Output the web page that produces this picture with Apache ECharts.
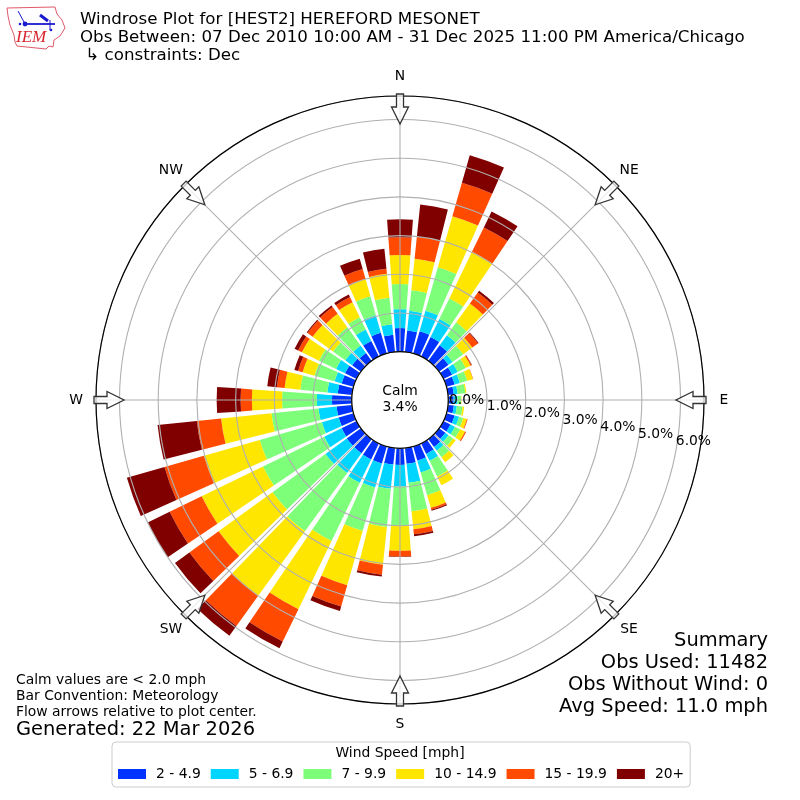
<!DOCTYPE html>
<html><head><meta charset="utf-8">
<style>html,body{margin:0;padding:0;background:#fff}#c{width:800px;height:800px}</style>
<script src="https://cdn.jsdelivr.net/npm/echarts@6/dist/echarts.min.js"></script>
</head><body><div id="c"></div>
<script>
const directions = Array.from({length:36},(_, i)=>String(i*10));
const speedBins = ['2 - 4.9','5 - 6.9','7 - 9.9','10 - 14.9','15 - 19.9','20+'];
const binColors = ['#0033ff','#00d5ff','#7dff7a','#ffe600','#ff4a00','#800000'];
const compass = ['N','NE','E','SE','S','SW','W','NW'];
const radialTicks = ['0.0%','1.0%','2.0%','3.0%','4.0%','5.0%','6.0%'];
const bin1 = [.61,.56,.60,.56,.50,.30,.25,.22,.15,.14,.15,.22,.20,.20,.25,.30,.38,.41,.43,.43,.46,.46,.45,.45,.43,.40,.40,.51,.37,.32,.33,.28,.25,.45,.56,.45];
const bin2 = [.49,.51,.55,.52,.32,.13,.16,.14,.10,.10,.08,.12,.13,.10,.12,.20,.32,.49,.56,.63,.64,.67,.63,.68,.50,.45,.47,.39,.27,.19,.26,.22,.24,.33,.47,.27];
const bin3 = [.65,.53,1.17,.59,.41,.34,.23,.20,.20,.09,.15,.11,.15,.15,.21,.45,.61,.74,1.01,.99,1.17,1.67,1.86,1.69,1.76,1.67,1.22,.90,.70,.54,.49,.39,.58,.35,.51,.69];
const bin4 = [.75,.82,1.37,1.34,.60,.29,.14,.15,.03,.01,.04,.10,.14,.08,.16,.25,.34,.47,.65,.98,1.46,1.96,2.06,1.72,1.76,1.50,1.31,.78,.41,.32,.49,.65,.43,.43,.46,.62];
const bin5 = [.46,.57,.90,.70,.35,.18,.03,.01,0,0,0,.02,.03,0,0,0,.05,.13,.15,.26,.57,.93,.96,.93,.92,1.06,.63,.29,.20,.12,.11,.16,.22,.15,.27,.13];
const bin6 = [.46,.84,.74,.46,.06,.02,.01,0,0,0,0,0,0,0,0,0,.03,.05,.01,.05,.12,.19,.31,.46,.63,1.01,1.02,.62,.25,.10,.10,.03,.05,.07,.28,.52];
const binValues = [bin1,bin2,bin3,bin4,bin5,bin6];

const CX=400, CY=400, R0=48.3, R1=304, RMAX=(R1-R0)/38.7, RLABEL=324;
const FONT='"DejaVu Sans"';
const chart = echarts.init(document.getElementById('c'),null,{renderer:'canvas'});
const polarRadius=[R0,R1];
const txt=(x,y,text,size,align,extra)=>({type:'text',x,y,z:100,zlevel:0,silent:true,style:Object.assign({text,font:size+'px '+FONT,fill:'#000',textAlign:align||'left',textVerticalAlign:'middle'},extra||{})});
const arrow=(deg)=>({type:'polygon',x:CX,y:CY,rotation:-deg*Math.PI/180,z:90,silent:true,
  shape:{points:[[-3.5,-306],[3.5,-306],[3.5,-293],[8.5,-293],[0,-276],[-8.5,-293],[-3.5,-293]]},
  style:{fill:'rgba(255,255,255,0.75)',stroke:'#333',lineWidth:1.3}});
const logoRed='#e0586a', logoBlue='#1a1ad0';
const graphics=[
  txt(80,20,'Windrose Plot for [HEST2] HEREFORD MESONET',16.67),
  txt(80,38,'Obs Between: 07 Dec 2010 10:00 AM - 31 Dec 2025 11:00 PM America/Chicago',16.67),
  txt(80,56,' ↳ constraints: Dec',16.67),
  txt(768,641,'Summary',19.44,'right'),
  txt(768,663,'Obs Used: 11482',19.44,'right'),
  txt(768,685,'Obs Without Wind: 0',19.44,'right'),
  txt(768,707,'Avg Speed: 11.0 mph',19.44,'right'),
  txt(16,680,'Calm values are < 2.0 mph',13.89),
  txt(16,696,'Bar Convention: Meteorology',13.89),
  txt(16,712,'Flow arrows relative to plot center.',13.89),
  txt(16,730,'Generated: 22 Mar 2026',19.44),
  txt(400,391,'Calm',13.89,'center'),
  txt(400,407,'3.4%',13.89,'center'),
  txt(400,753,'Wind Speed [mph]',13.89,'center'),
  // logo
  {type:'polygon',z:100,silent:true,shape:{points:[[7,8],[55,7],[57,14],[62,20],[65,28],[60,36],[54,40],[53,47],[49,46],[46,49],[17,46],[15,42],[14,35],[10,25],[8,16]]},style:{fill:'#fff',stroke:logoRed,lineWidth:1}},
  {type:'polyline',z:101,silent:true,shape:{points:[[25,24],[55,24]]},style:{stroke:logoBlue,lineWidth:1.8,fill:'none'}},
  {type:'polyline',z:101,silent:true,shape:{points:[[18,11],[24,22]]},style:{stroke:logoBlue,lineWidth:1,fill:'none'}},
  {type:'polyline',z:101,silent:true,shape:{points:[[40,15],[48,21]]},style:{stroke:logoBlue,lineWidth:3,fill:'none'}},
  {type:'polyline',z:101,silent:true,shape:{points:[[50,20],[50,30]]},style:{stroke:logoBlue,lineWidth:1,fill:'none'}},
  {type:'circle',z:101,silent:true,shape:{cx:25,cy:24,r:2.4},style:{fill:logoBlue}},
  {type:'circle',z:101,silent:true,shape:{cx:20,cy:24,r:1.3},style:{fill:logoBlue}},
  {type:'circle',z:101,silent:true,shape:{cx:51,cy:30,r:1.3},style:{fill:logoBlue}},
  {type:'text',x:16,y:38,z:101,silent:true,style:{text:'IEM',font:'italic 17px "Liberation Serif"',fill:'#d8242e',textVerticalAlign:'middle'}}
];
compass.forEach((name,i)=>{
  const a=i*45*Math.PI/180;
  graphics.push(arrow(i*45));
  graphics.push(txt(CX+RLABEL*Math.sin(a),CY-RLABEL*Math.cos(a),name,13.89,'center'));
});
radialTicks.forEach((t,i)=>graphics.push(txt(449+37.8*i,400+6.85*i,t,13.89)));

chart.setOption({
  animation:false,
  backgroundColor:'#fff',
  polar:[{center:[CX,CY],radius:polarRadius},{center:[CX,CY],radius:polarRadius}],
  angleAxis:[
    {polarIndex:0,type:'category',data:directions,startAngle:95,clockwise:true,boundaryGap:true,
     axisLine:{show:false},axisTick:{show:false},axisLabel:{show:false},splitLine:{show:false},z:1},
    {polarIndex:1,type:'value',min:0,max:360,interval:45,startAngle:90,clockwise:true,z:6,
     axisLine:{show:true,lineStyle:{color:'#000',width:1.2}},axisTick:{show:false},
     splitLine:{show:true,lineStyle:{color:'#b0b0b0',width:1.1}},splitArea:{show:false},
     axisLabel:{show:false}}
  ],
  radiusAxis:[
    {polarIndex:0,type:'value',min:0,max:RMAX,axisLine:{show:false},axisTick:{show:false},axisLabel:{show:false},splitLine:{show:false},z:1},
    {polarIndex:1,type:'value',min:0,max:RMAX,interval:1,z:5,axisLine:{show:false},axisTick:{show:false},axisLabel:{show:false},
     splitLine:{show:true,lineStyle:{color:'#b0b0b0',width:1.1,type:'solid'}},splitArea:{show:false}}
  ],
  legend:{left:112,top:742,orient:'horizontal',width:640,padding:[25,6,6,6],itemGap:10,itemWidth:28,itemHeight:10,icon:'rect',
    borderColor:'#cccccc',borderWidth:1,borderRadius:4,
    data:speedBins,selectedMode:false,
    textStyle:{fontFamily:'DejaVu Sans',fontSize:13.89,color:'#000',padding:[0,0,0,5]}},
  series:speedBins.map((name,i)=>({
    name,type:'bar',coordinateSystem:'polar',polarIndex:0,stack:'rose',barWidth:'82%',
    itemStyle:{color:binColors[i]},data:binValues[i],silent:true,z:2
  })),
  graphic:{elements:graphics}
});
</script></body></html>
